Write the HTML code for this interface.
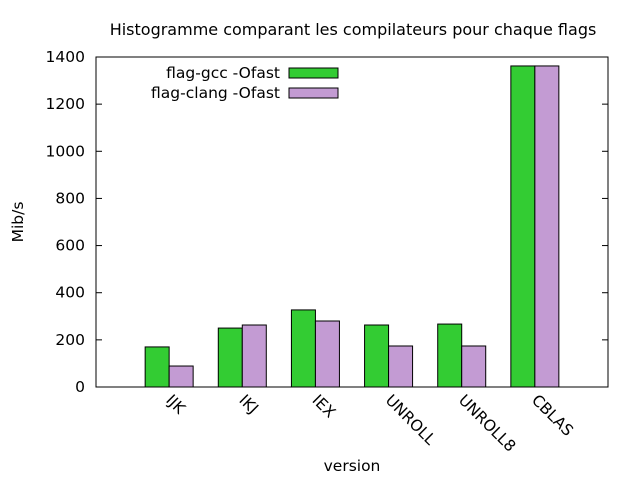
<!DOCTYPE html>
<html><head><meta charset="utf-8"><style>body{margin:0;background:#fff}svg{display:block;font-family:"DejaVu Sans","Liberation Sans",sans-serif}</style></head>
<body>
<svg id="c" width="640" height="480" xmlns="http://www.w3.org/2000/svg">
<rect width="640" height="480" fill="#fff"/>
<text x="353" y="35" font-size="16" text-anchor="middle">Histogramme comparant les compilateurs pour chaque flags</text>
<text x="23" y="222" font-size="15.5" text-anchor="middle" transform="rotate(-90 23 222)">Mib/s</text>
<text x="352" y="471" font-size="15.5" text-anchor="middle">version</text>
<g id="g"></g>
<rect x="96" y="57" width="512" height="330" fill="none" stroke="#000"/>
</svg>
<script>
const categories=["IJK","IKJ","IEX","UNROLL","UNROLL8","CBLAS"];
const gccValues=[170,250,327,263,267,1362];
const clangValues=[89,263,280,174,174,1362];
const yTicks=[0,200,400,600,800,1000,1200,1400];
const seriesNames=["flag-gcc -Ofast","flag-clang -Ofast"];
const colors=["#33cc33","#c39bd3"];
const L=96,R=608,T=57,B=387;
const X=i=>L+(i+1)*(R-L)/7;
const Y=v=>B-v*(B-T)/1400;
const g=document.getElementById('g');
const NS="http://www.w3.org/2000/svg";
function mk(t,a){const e=document.createElementNS(NS,t);for(const k in a)e.setAttribute(k,a[k]);g.appendChild(e);return e;}
yTicks.forEach(v=>{
 const l=mk('line',{x1:L,x2:L+6,y1:Y(v),y2:Y(v),stroke:'#000'});
 
 
 const l2=mk('line',{x1:R-6,x2:R,y1:Y(v),y2:Y(v),stroke:'#000'});
 
 
 const t=mk('text',{x:L-11,y:Y(v)+5,'font-size':15.5,'text-anchor':'end'});
 t.textContent=v;
 
 
});
const bw=24;
[gccValues,clangValues].forEach((vals,s)=>{
 vals.forEach((v,i)=>{
  const x=X(i)-bw+s*bw;
  const r=mk('rect',{x:x,y:Y(v),width:bw,height:B-Y(v),fill:colors[s],stroke:'#000','stroke-width':1});
  
  
 });
});
categories.forEach((c,i)=>{
 const x=X(i)-4,y=B+14;
 const t=mk('text',{x:x,y:y,'font-size':15.5,transform:`rotate(45 ${x} ${y})`});
 t.textContent=c;
 
 
});
seriesNames.forEach((n,s)=>{
 const y=73+s*20;
 const t=mk('text',{x:280,y:y+5,'font-size':15.5,'text-anchor':'end'});
 t.textContent=n;
 
 
 const r=mk('rect',{x:289,y:y-5,width:49,height:10,fill:colors[s],stroke:'#000'});
 
 
});
</script>
</body></html>
